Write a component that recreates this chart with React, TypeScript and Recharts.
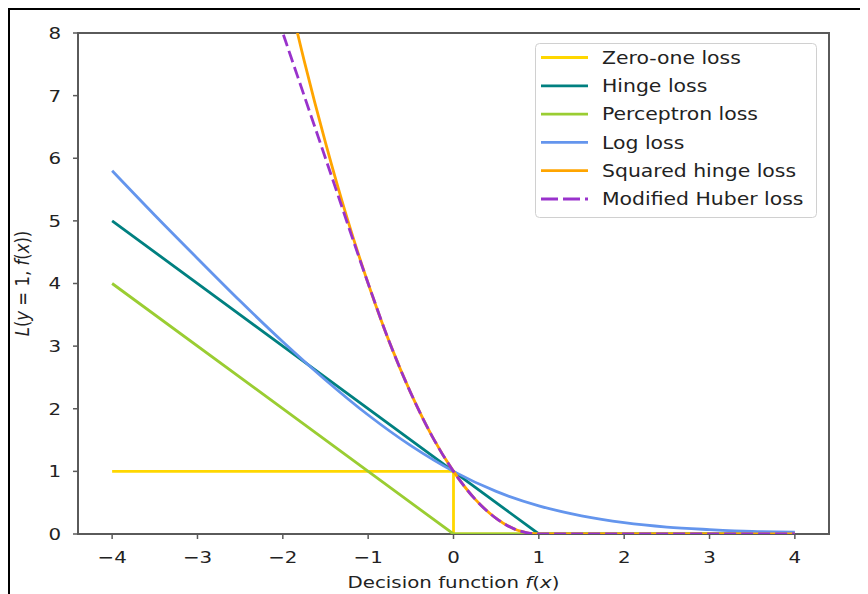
import React from "react";
import { LineChart, Line, XAxis, YAxis, ReferenceArea, Legend } from "recharts";

// values
const zeroOneX = [-4, 0, 0, 4];
const zeroOneY = [1, 1, 0, 0];
const hingeX = [-4, 1, 4];
const hingeY = [5, 0, 0];
const perceptronX = [-4, 0, 4];
const perceptronY = [4, 0, 0];
const logX = [-4, -3.5, -3, -2.5, -2, -1.5, -1, -0.5, 0, 0.5, 1, 1.5, 2, 2.5, 3, 3.5, 4];
const logY = [5.8, 5.09, 4.4, 3.72, 3.07, 2.46, 1.9, 1.41, 1.0, 0.68, 0.45, 0.29, 0.18, 0.11, 0.07, 0.04, 0.03];
const sqHingeX = [-2, -1.75, -1.5, -1.25, -1, -0.75, -0.5, -0.25, 0, 0.25, 0.5, 0.75, 1, 4];
const sqHingeY = [9, 7.56, 6.25, 5.06, 4, 3.06, 2.25, 1.56, 1, 0.56, 0.25, 0.06, 0, 0];
const huberX = [-2.25, -2, -1.5, -1, -0.75, -0.5, -0.25, 0, 0.25, 0.5, 0.75, 1, 4];
const huberY = [9, 8, 6, 4, 3.06, 2.25, 1.56, 1, 0.56, 0.25, 0.06, 0, 0];

const xTicks = [-4, -3, -2, -1, 0, 1, 2, 3, 4];
const yTicks = [0, 1, 2, 3, 4, 5, 6, 7, 8];

const series = [
  { name: "Zero-one loss", color: "#ffd700", xs: zeroOneX, ys: zeroOneY, type: "linear", dash: undefined },
  { name: "Hinge loss", color: "#008080", xs: hingeX, ys: hingeY, type: "linear", dash: undefined },
  { name: "Perceptron loss", color: "#9acd32", xs: perceptronX, ys: perceptronY, type: "linear", dash: undefined },
  { name: "Log loss", color: "#6495ed", xs: logX, ys: logY, type: "monotone", dash: undefined },
  { name: "Squared hinge loss", color: "#ffa500", xs: sqHingeX, ys: sqHingeY, type: "monotone", dash: undefined },
  { name: "Modified Huber loss", color: "#9932cc", xs: huberX, ys: huberY, type: "monotone", dash: "12 5" },
] as const;

const FONT = "DejaVu Sans, sans-serif";
const FS = 16.5;
const SX = 1.2; // the reference is stretched sideways
const INK = "#222";
const SPINE = "#5a5a5a";
const LW = 2.8;

const minus = (v: number) => (v < 0 ? `\u2212${-v}` : `${v}`);

function XTick({ x, y, payload }: any) {
  return (
    <text transform={`translate(${x},${y}) scale(${SX},1)`} dy={20} textAnchor="middle" fontFamily={FONT} fontSize={FS} fill={INK}>
      {minus(payload.value)}
    </text>
  );
}

function YTick({ x, y, payload }: any) {
  return (
    <text transform={`translate(${x},${y}) scale(${SX},1)`} dy="0.36em" textAnchor="end" fontFamily={FONT} fontSize={FS} fill={INK}>
      {minus(payload.value)}
    </text>
  );
}

function XLabel({ viewBox }: any) {
  const cx = viewBox.x + viewBox.width / 2;
  return (
    <text transform={`translate(${cx},${viewBox.y + 54}) scale(${SX},1)`} textAnchor="middle" fontFamily={FONT} fontSize={FS} fill={INK}>
      Decision function <tspan fontStyle="italic">f</tspan>(<tspan fontStyle="italic">x</tspan>)
    </text>
  );
}

function YLabel({ viewBox }: any) {
  const cy = viewBox.y + viewBox.height / 2;
  return (
    <text transform={`translate(${viewBox.x + 11},${cy}) scale(${SX},1) rotate(-90)`} textAnchor="middle" fontFamily={FONT} fontSize={FS} fill={INK}>
      <tspan fontStyle="italic">L</tspan>(<tspan fontStyle="italic">y</tspan> = 1, <tspan fontStyle="italic">f</tspan>(<tspan fontStyle="italic">x</tspan>))
    </text>
  );
}

function LegendBox() {
  return (
    <svg width={282} height={175} style={{ display: "block" }}>
      <rect x={0.5} y={0.5} width={281} height={174} rx={4} fill="#fff" fillOpacity={0.85} stroke="#d0d0d0" />
      {series.map((s, i) => {
        const cy = 14.5 + 28.3 * i;
        return (
          <g key={s.name}>
            <line x1={6} x2={53} y1={cy} y2={cy} stroke={s.color} strokeWidth={LW} strokeDasharray={s.dash ? "17 5" : undefined} />
            <text transform={`translate(67,${cy}) scale(${SX},1)`} dy="0.36em" fontFamily={FONT} fontSize={17} fill={INK}>
              {s.name}
            </text>
          </g>
        );
      })}
    </svg>
  );
}

export default function App() {
  return (
    <div style={{ width: 860, height: 586, borderTop: "2px solid #000", borderLeft: "2px solid #000", background: "#fff" }}>
      <LineChart width={858} height={584} margin={{ top: 23, right: 39, bottom: 0, left: 8 }}>
        <XAxis
          dataKey="x"
          type="number"
          domain={[-4.4, 4.4]}
          ticks={xTicks}
          allowDataOverflow
          height={60}
          tickSize={5}
          tickMargin={4}
          tick={<XTick />}
          axisLine={false}
          tickLine={{ stroke: SPINE, strokeWidth: 1.5 }}
          label={<XLabel />}
        />
        <YAxis
          type="number"
          domain={[0, 8]}
          ticks={yTicks}
          allowDataOverflow
          width={60}
          tickSize={5}
          tickMargin={12}
          tick={<YTick />}
          axisLine={false}
          tickLine={{ stroke: SPINE, strokeWidth: 1.5 }}
          label={<YLabel />}
        />
        <ReferenceArea x1={-4.4} x2={4.4} y1={0} y2={8} fill="none" stroke={SPINE} strokeWidth={2} />
        {series.map((s) => (
          <Line
            key={s.name}
            data={s.xs.map((x, i) => ({ x, y: s.ys[i] }))}
            dataKey="y"
            name={s.name}
            type={s.type}
            stroke={s.color}
            strokeWidth={LW}
            strokeDasharray={s.dash}
            dot={false}
            activeDot={false}
            isAnimationActive={false}
          />
        ))}
        <Legend
          layout="horizontal"
          verticalAlign="middle"
          align="center"
          content={() => <LegendBox />}
          wrapperStyle={{ left: 525, top: 33, width: 282, height: 175 }}
        />
      </LineChart>
    </div>
  );
}
